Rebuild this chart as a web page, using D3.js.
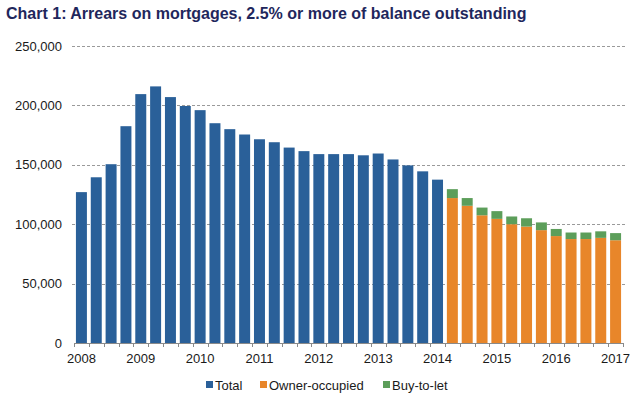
<!DOCTYPE html>
<html>
<head>
<meta charset="utf-8">
<script src="https://cdn.jsdelivr.net/npm/d3@7"></script>
<style>
  html, body { margin: 0; padding: 0; background: #fff; }
  svg { display: block; font-family: 'Liberation Sans', Arial, sans-serif; }
</style>
</head>
<body>
<svg id="chart" width="638" height="398"></svg>
<script>
// quarterly categories, 2008 Q1 to 2017 Q1
const quarters = [
  '2008 Q1', '2008 Q2', '2008 Q3', '2008 Q4',
  '2009 Q1', '2009 Q2', '2009 Q3', '2009 Q4',
  '2010 Q1', '2010 Q2', '2010 Q3', '2010 Q4',
  '2011 Q1', '2011 Q2', '2011 Q3', '2011 Q4',
  '2012 Q1', '2012 Q2', '2012 Q3', '2012 Q4',
  '2013 Q1', '2013 Q2', '2013 Q3', '2013 Q4',
  '2014 Q1', '2014 Q2', '2014 Q3', '2014 Q4',
  '2015 Q1', '2015 Q2', '2015 Q3', '2015 Q4',
  '2016 Q1', '2016 Q2', '2016 Q3', '2016 Q4',
  '2017 Q1'
];

// total arrears, 2008 Q1 - 2014 Q1
const total = [
  127000, 139500, 150500, 182500, 209500, 216000, 207000, 199500,
  196000, 185000, 180000, 175500, 171500, 169000, 164500, 161500,
  159000, 159000, 159000, 158000, 159500, 154500, 149500, 144500,
  137500
];

// split series, 2014 Q2 - 2017 Q1
const ownerOccupied = [
  122000, 115500, 107500, 104500, 100000, 98000,
  95000, 90000, 87500, 87500, 88500, 86500
];
const buyToLet = [
  7500, 6500, 6500, 6500, 6500, 7000,
  6500, 6000, 5500, 5500, 5500, 6000
];

const yTicks = [0, 50000, 100000, 150000, 200000, 250000];
const yearLabels = ['2008', '2009', '2010', '2011', '2012', '2013', '2014', '2015', '2016', '2017'];

const seriesNames = ['Total', 'Owner-occupied', 'Buy-to-let'];
const colours = ['#2a6099', '#e8862a', '#5c9e5a'];

const svg = d3.select('#chart');

const plotLeft = 74, plotRight = 623, plotTop = 46, plotBottom = 343;

const x = d3.scaleBand()
  .domain(quarters)
  .range([plotLeft, plotRight])
  .paddingInner(0.26)
  .paddingOuter(0.13);

const y = d3.scaleLinear()
  .domain([0, 250000])
  .range([plotBottom, plotTop]);

const colour = d3.scaleOrdinal().domain(seriesNames).range(colours);

// title
svg.append('text')
  .attr('x', 6)
  .attr('y', 19)
  .attr('font-size', 16)
  .attr('font-weight', 'bold')
  .attr('fill', '#1f275c')
  .text('Chart 1: Arrears on mortgages, 2.5% or more of balance outstanding');

// gridlines
svg.append('g')
  .selectAll('line')
  .data(yTicks.filter(d => d > 0))
  .enter()
  .append('line')
  .attr('x1', plotLeft - 2)
  .attr('x2', plotRight + 2)
  .attr('y1', d => Math.round(y(d)) + 0.5)
  .attr('y2', d => Math.round(y(d)) + 0.5)
  .attr('stroke', '#9a9a9a')
  .attr('stroke-width', 1)
  .attr('stroke-dasharray', '3,2');

// y axis labels
const yAxis = svg.append('g')
  .attr('transform', 'translate(' + (plotLeft - 12) + ',0)')
  .call(d3.axisLeft(y).tickValues(yTicks).tickSize(0).tickPadding(0)
    .tickFormat(d3.format(',')));
yAxis.select('.domain').remove();
yAxis.selectAll('text')
  .attr('font-size', 13)
  .attr('font-family', "'Liberation Sans', Arial, sans-serif")
  .attr('fill', '#1a1a1a');

// rows of bar data
const rows = quarters.map(function(q, i) {
  const j = i - total.length;
  return {
    q: q,
    total: i < total.length ? total[i] : 0,
    owner: j >= 0 ? ownerOccupied[j] : 0,
    btl: j >= 0 ? buyToLet[j] : 0
  };
});

const stack = d3.stack().keys(['total', 'owner', 'btl']);
const layers = stack(rows);

svg.append('g')
  .selectAll('g')
  .data(layers)
  .enter()
  .append('g')
  .attr('fill', (d, i) => colours[i])
  .selectAll('rect')
  .data(d => d.filter(p => p[1] > p[0]))
  .enter()
  .append('rect')
  .attr('x', d => x(d.data.q))
  .attr('width', x.bandwidth())
  .attr('y', d => y(d[1]))
  .attr('height', d => y(d[0]) - y(d[1]));

// x axis: line with a tick at every category boundary
const xAxis = svg.append('g');
xAxis.append('line')
  .attr('x1', plotLeft)
  .attr('x2', plotRight)
  .attr('y1', plotBottom + 0.5)
  .attr('y2', plotBottom + 0.5)
  .attr('stroke', '#8a8a8a');

const step = x.step();
const bounds = quarters.map(q => x(q) - step * x.paddingInner() / 2).concat([plotRight]);
xAxis.selectAll('line.tick')
  .data(bounds)
  .enter()
  .append('line')
  .attr('class', 'tick')
  .attr('x1', d => Math.round(d) + 0.5)
  .attr('x2', d => Math.round(d) + 0.5)
  .attr('y1', plotBottom)
  .attr('y2', plotBottom + 4)
  .attr('stroke', '#8a8a8a');

xAxis.selectAll('text')
  .data(yearLabels)
  .enter()
  .append('text')
  .attr('x', d => x(d + ' Q1') + x.bandwidth() / 2)
  .attr('y', plotBottom + 20)
  .attr('text-anchor', 'middle')
  .attr('font-size', 13)
  .attr('fill', '#1a1a1a')
  .text(d => d);

// legend
const legendX = [206, 260, 383];
const legend = svg.append('g')
  .selectAll('g')
  .data(seriesNames)
  .enter()
  .append('g')
  .attr('transform', (d, i) => 'translate(' + legendX[i] + ', 381)');

legend.append('rect')
  .attr('width', 7)
  .attr('height', 7)
  .attr('fill', d => colour(d));

legend.append('text')
  .attr('x', 9)
  .attr('y', 8.5)
  .attr('font-size', 13)
  .attr('fill', '#1a1a1a')
  .text(d => d);
</script>
</body>
</html>
